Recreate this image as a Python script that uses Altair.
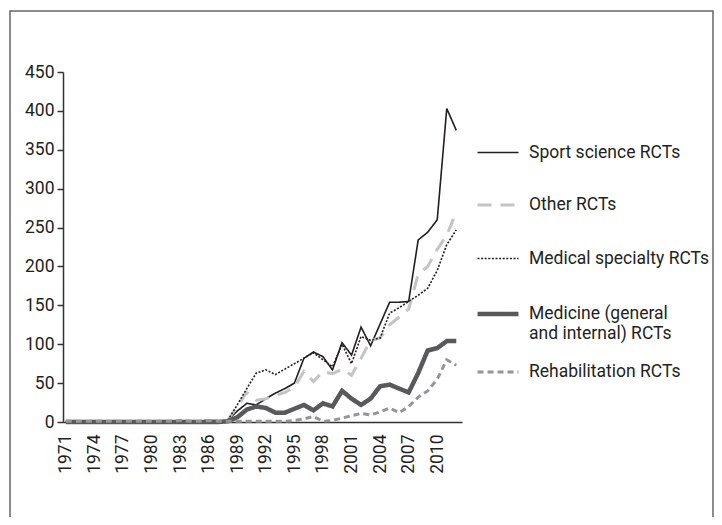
import altair as alt
import pandas as pd

years = list(range(1971, 2013))
tick_years = list(range(1971, 2011, 3))

series_names = [
    "Sport science RCTs",
    "Other RCTs",
    "Medical specialty RCTs",
    "Medicine (general and internal) RCTs",
    "Rehabilitation RCTs",
]

sport = [0, 0, 0, 0, 0, 0, 0, 0, 0, 1, 0, 0, 1, 0, 1, 1, 1,
         2, 14, 24, 22, 30, 37, 43, 50, 82, 90, 84, 67, 102, 86, 122, 98,
         126, 154, 154, 155, 234, 244, 260, 403, 375]
other = [1, 1, 1, 1, 1, 1, 1, 1, 1, 1, 1, 1, 1, 1, 1, 2, 2,
         2, 20, 38, 28, 30, 34, 38, 45, 65, 52, 65, 62, 68, 60, 82, 105,
         108, 125, 135, 145, 190, 200, 222, 240, 270]
medical = [1, 1, 1, 1, 1, 1, 1, 1, 1, 1, 1, 1, 1, 1, 1, 1, 1,
           2, 22, 43, 63, 67, 61, 68, 75, 82, 89, 80, 71, 100, 75, 110, 105,
           108, 140, 147, 155, 163, 172, 195, 228, 247]
medicine = [0, 0, 0, 0, 0, 0, 0, 0, 0, 0, 0, 0, 0, 0, 0, 0, 0,
            1, 6, 16, 20, 18, 12, 12, 17, 22, 15, 24, 20, 40, 30, 22, 30,
            46, 48, 43, 38, 63, 92, 95, 104, 104]
rehab = [1, 1, 1, 1, 1, 1, 1, 1, 1, 1, 1, 1, 2, 1, 1, 2, 1,
         1, 1, 1, 1, 1, 1, 1, 2, 4, 7, 1, 2, 5, 8, 11, 9,
         13, 18, 12, 20, 32, 40, 55, 80, 73]

values_by_series = [sport, other, medical, medicine, rehab]

colors = ["#231f20", "#c2c4c6", "#231f20", "#58595b", "#939598"]
dashes = [[1, 0], [14, 9], [2, 1.6], [1, 0], [6, 4]]
widths = [1.6, 3, 1.6, 4.5, 3]

rows = []
for name, vals in zip(series_names, values_by_series):
    for yr, v in zip(years, vals):
        rows.append({"year": yr, "value": v, "series": name})
df = pd.DataFrame(rows)

FONT = "Roboto"
TXT = "#231f20"

legend = alt.Legend(
    orient="none",
    legendX=412,
    legendY=59,
    title=None,
    symbolType="M-1,-1.25M-1,0H1M1,1.25",
    symbolSize=1681,
    labelFont=FONT,
    labelFontSize=17.5,
    labelColor=TXT,
    labelLimit=300,
    labelOffset=8,
    rowPadding=-9,
    labelExpr="datum.label == 'Medicine (general and internal) RCTs' ? ['Medicine (general', 'and internal) RCTs'] : datum.label",
)

lines = alt.Chart(df).mark_line(strokeCap="butt").encode(
    x=alt.X(
        "year:Q",
        scale=alt.Scale(domain=[1970.7, 2012.6], nice=False, zero=False),
        axis=alt.Axis(
            values=tick_years, format="d", labelAngle=270, ticks=False,
            labelPadding=12, title=None, grid=False,
            labelFont=FONT, labelFontSize=17.5, labelColor=TXT,
            domainColor="#333333", domainWidth=1.5,
        ),
    ),
    y=alt.Y(
        "value:Q",
        scale=alt.Scale(domain=[0, 450], nice=False),
        axis=alt.Axis(
            values=list(range(0, 451, 50)), tickSize=6, labelPadding=3,
            title=None, grid=False,
            labelFont=FONT, labelFontSize=17.5, labelColor=TXT,
            domainColor="#333333", domainWidth=1.5,
            tickColor="#333333", tickWidth=1.5,
        ),
    ),
    color=alt.Color("series:N", scale=alt.Scale(domain=series_names, range=colors), legend=legend),
    strokeDash=alt.StrokeDash("series:N", scale=alt.Scale(domain=series_names, range=dashes), legend=legend),
    strokeWidth=alt.StrokeWidth("series:N", scale=alt.Scale(type="ordinal", domain=series_names, range=widths), legend=legend),
)

frame = alt.Chart(pd.DataFrame({"f": [0]})).mark_rect(
    fill="transparent", stroke="#666666", strokeWidth=1.5, clip=False
).encode(
    x=alt.value(-53), x2=alt.value(650), y=alt.value(-61), y2=alt.value(600)
)

chart = alt.layer(frame, lines).properties(
    width=399,
    height=350,
    padding={"left": 55, "top": 64, "right": 252, "bottom": 95},
    autosize=alt.AutoSizeParams(type="none"),
).configure_view(stroke=None)

chart.save("out.html", embed_options={"renderer": "svg", "actions": False})
